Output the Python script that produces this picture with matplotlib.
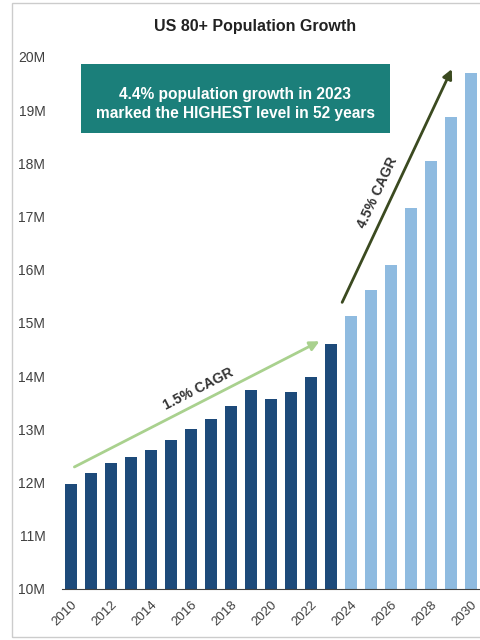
import matplotlib.pyplot as plt
from matplotlib.patches import Rectangle

plt.rcParams['font.family'] = ['Liberation Sans', 'DejaVu Sans']

# population of US 80+ (millions), actual then projected
years = [2010, 2011, 2012, 2013, 2014, 2015, 2016, 2017, 2018, 2019, 2020,
         2021, 2022, 2023, 2024, 2025, 2026, 2027, 2028, 2029, 2030]
population = [11.97, 12.18, 12.36, 12.48, 12.61, 12.80, 13.00, 13.20, 13.44, 13.74, 13.58,
              13.71, 13.99, 14.60, 15.13, 15.62, 16.09, 17.17, 18.05, 18.87, 19.69]
last_actual_year = 2023

y_ticks = [10, 11, 12, 13, 14, 15, 16, 17, 18, 19, 20]
y_tick_labels = [f'{t}M' for t in y_ticks]
x_tick_labels = [str(y) for y in years[::2]]

dark_blue = '#1d4a7a'
light_blue = '#8fbbe0'

fig = plt.figure(figsize=(4.8, 6.4), dpi=100)
ax = fig.add_axes([0.129, 0.0797, 0.871, 0.8313])

idx = list(range(len(years)))
colors = [dark_blue if y <= last_actual_year else light_blue for y in years]
ax.bar(idx, [p - 10 for p in population], bottom=10, width=0.58, color=colors)

ax.set_xlim(-0.45, 20.45)
ax.set_ylim(10, 20)
ax.set_yticks(y_ticks)
ax.set_yticklabels(y_tick_labels, fontsize=10, color='#404040')
ax.set_xticks(idx[::2])
ax.set_xticklabels(x_tick_labels, rotation=45, ha='right', rotation_mode='anchor',
                   fontsize=9.5, color='#404040')
ax.tick_params(axis='both', length=0)
ax.tick_params(axis='y', pad=12)
ax.tick_params(axis='x', pad=7)
for side in ['top', 'right', 'left']:
    ax.spines[side].set_visible(False)
ax.spines['bottom'].set_color('#404040')

# CAGR arrows
ax.annotate('', xy=(12.55, 14.68), xytext=(0.05, 12.27),
            arrowprops=dict(arrowstyle='-|>', color='#a9d18e', lw=2, mutation_scale=14))
ax.text(6.35, 13.75, '1.5% CAGR', rotation=27, ha='center', va='center',
        fontsize=10, fontweight='bold', color='#333333')
ax.annotate('', xy=(19.1, 19.82), xytext=(13.5, 15.34),
            arrowprops=dict(arrowstyle='-|>', color='#3b4a20', lw=2, mutation_scale=14))
ax.text(15.35, 17.45, '4.5% CAGR', rotation=65, ha='center', va='center',
        fontsize=10, fontweight='bold', color='#333333')

# callout box
fig.patches.append(Rectangle((81 / 480, 1 - 133 / 640), 309 / 480, 69 / 640,
                             transform=fig.transFigure, facecolor='#1b7f7a',
                             edgecolor='none', zorder=5))
fig.text(235 / 480, 1 - 104 / 640,
         '4.4% population growth in 2023\nmarked the HIGHEST level in 52 years',
         ha='center', va='center', fontsize=11.2, fontweight='bold', color='white',
         linespacing=1.3, zorder=6)

fig.text(255 / 480, 1 - 27 / 640, 'US 80+ Population Growth',
         ha='center', va='center', fontsize=11.5, fontweight='bold', color='#222222')

# light frame around the figure
fig.patches.append(Rectangle((12 / 480, 3 / 640), 0.99, 634 / 640, transform=fig.transFigure,
                             fill=False, edgecolor='#cccccc', lw=1))

fig.savefig('out.png', dpi=100)
